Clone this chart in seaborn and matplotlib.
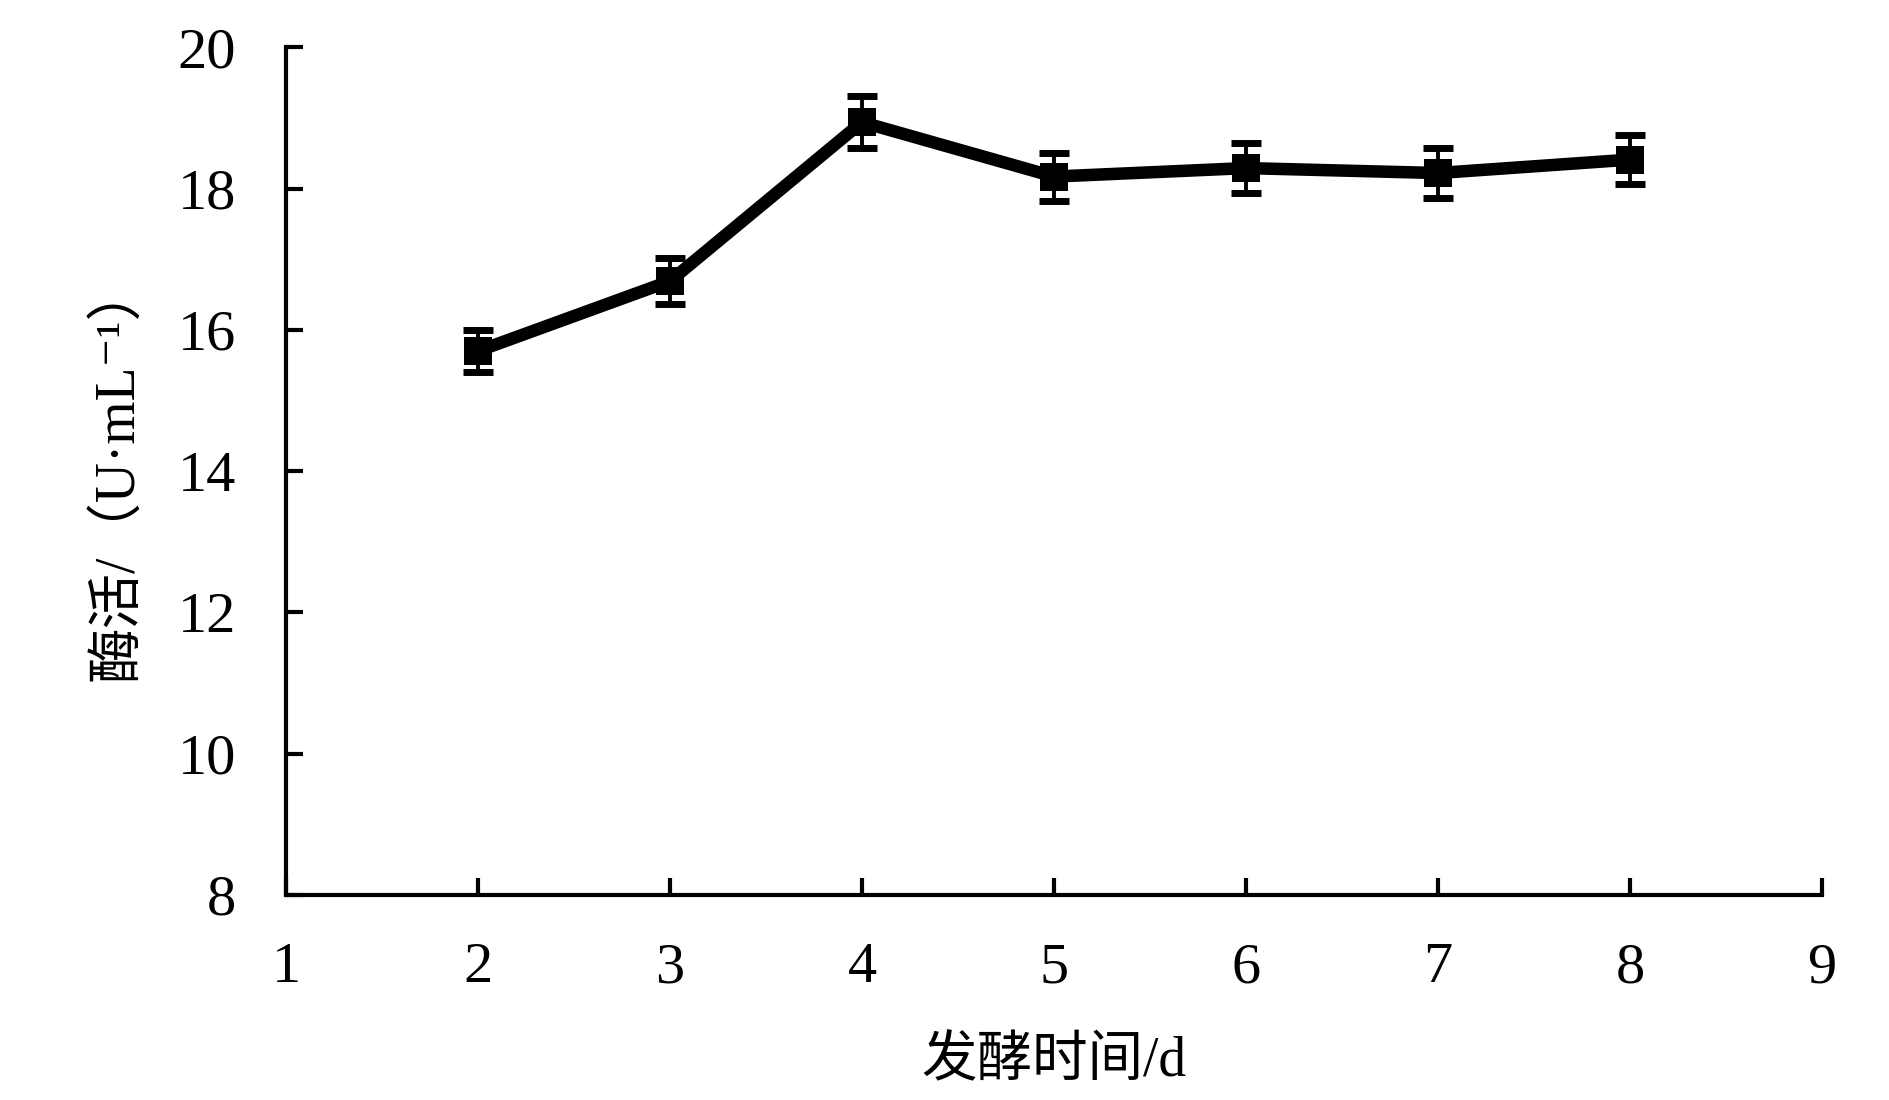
import numpy as np
import pandas as pd
import matplotlib
matplotlib.use("Agg")
import matplotlib.pyplot as plt
import seaborn as sns

# data
days = [2, 3, 4, 5, 6, 7, 8]
activity = [15.70, 16.69, 18.94, 18.17, 18.29, 18.22, 18.41]
activity_err = [0.30, 0.33, 0.37, 0.34, 0.35, 0.35, 0.35]
x_ticks = [1, 2, 3, 4, 5, 6, 7, 8, 9]
y_ticks = [8, 10, 12, 14, 16, 18, 20]

sns.set_theme(style="ticks")
plt.rcParams["font.family"] = ["Liberation Serif", "Noto Sans CJK SC", "DejaVu Sans"]
for key in ["text.color", "axes.labelcolor", "xtick.color", "ytick.color", "axes.edgecolor"]:
    plt.rcParams[key] = "black"

df = pd.DataFrame({"day": days, "activity": activity, "err": activity_err})

fig = plt.figure(figsize=(18.9, 11), dpi=100)
ax = fig.add_axes([0.1513, 0.1864, 0.8127, 0.7706])

ax.errorbar(df["day"], df["activity"], yerr=df["err"], fmt="none",
            ecolor="black", elinewidth=2.8, capsize=11, capthick=5, zorder=2)
sns.lineplot(data=df, x="day", y="activity", ax=ax, color="black",
             linewidth=9, marker="s", markersize=20, markeredgewidth=0,
             zorder=3)

ax.set_xlim(1, 9)
ax.set_ylim(8, 20)
ax.set_xticks(x_ticks)
ax.set_yticks(y_ticks)
ax.tick_params(direction="in", length=12, width=3, labelsize=42, color="black")
ax.tick_params(axis="y", pad=36)
ax.tick_params(axis="x", pad=34)

for side in ["top", "right"]:
    ax.spines[side].set_visible(False)
for side in ["left", "bottom"]:
    ax.spines[side].set_linewidth(3)

ax.set_xlabel("发酵时间/d", fontsize=40, labelpad=30)
ax.set_ylabel("酶活/（U·mL⁻¹）", fontsize=40, labelpad=24)

fig.savefig("out.png", dpi=100, facecolor="white")
